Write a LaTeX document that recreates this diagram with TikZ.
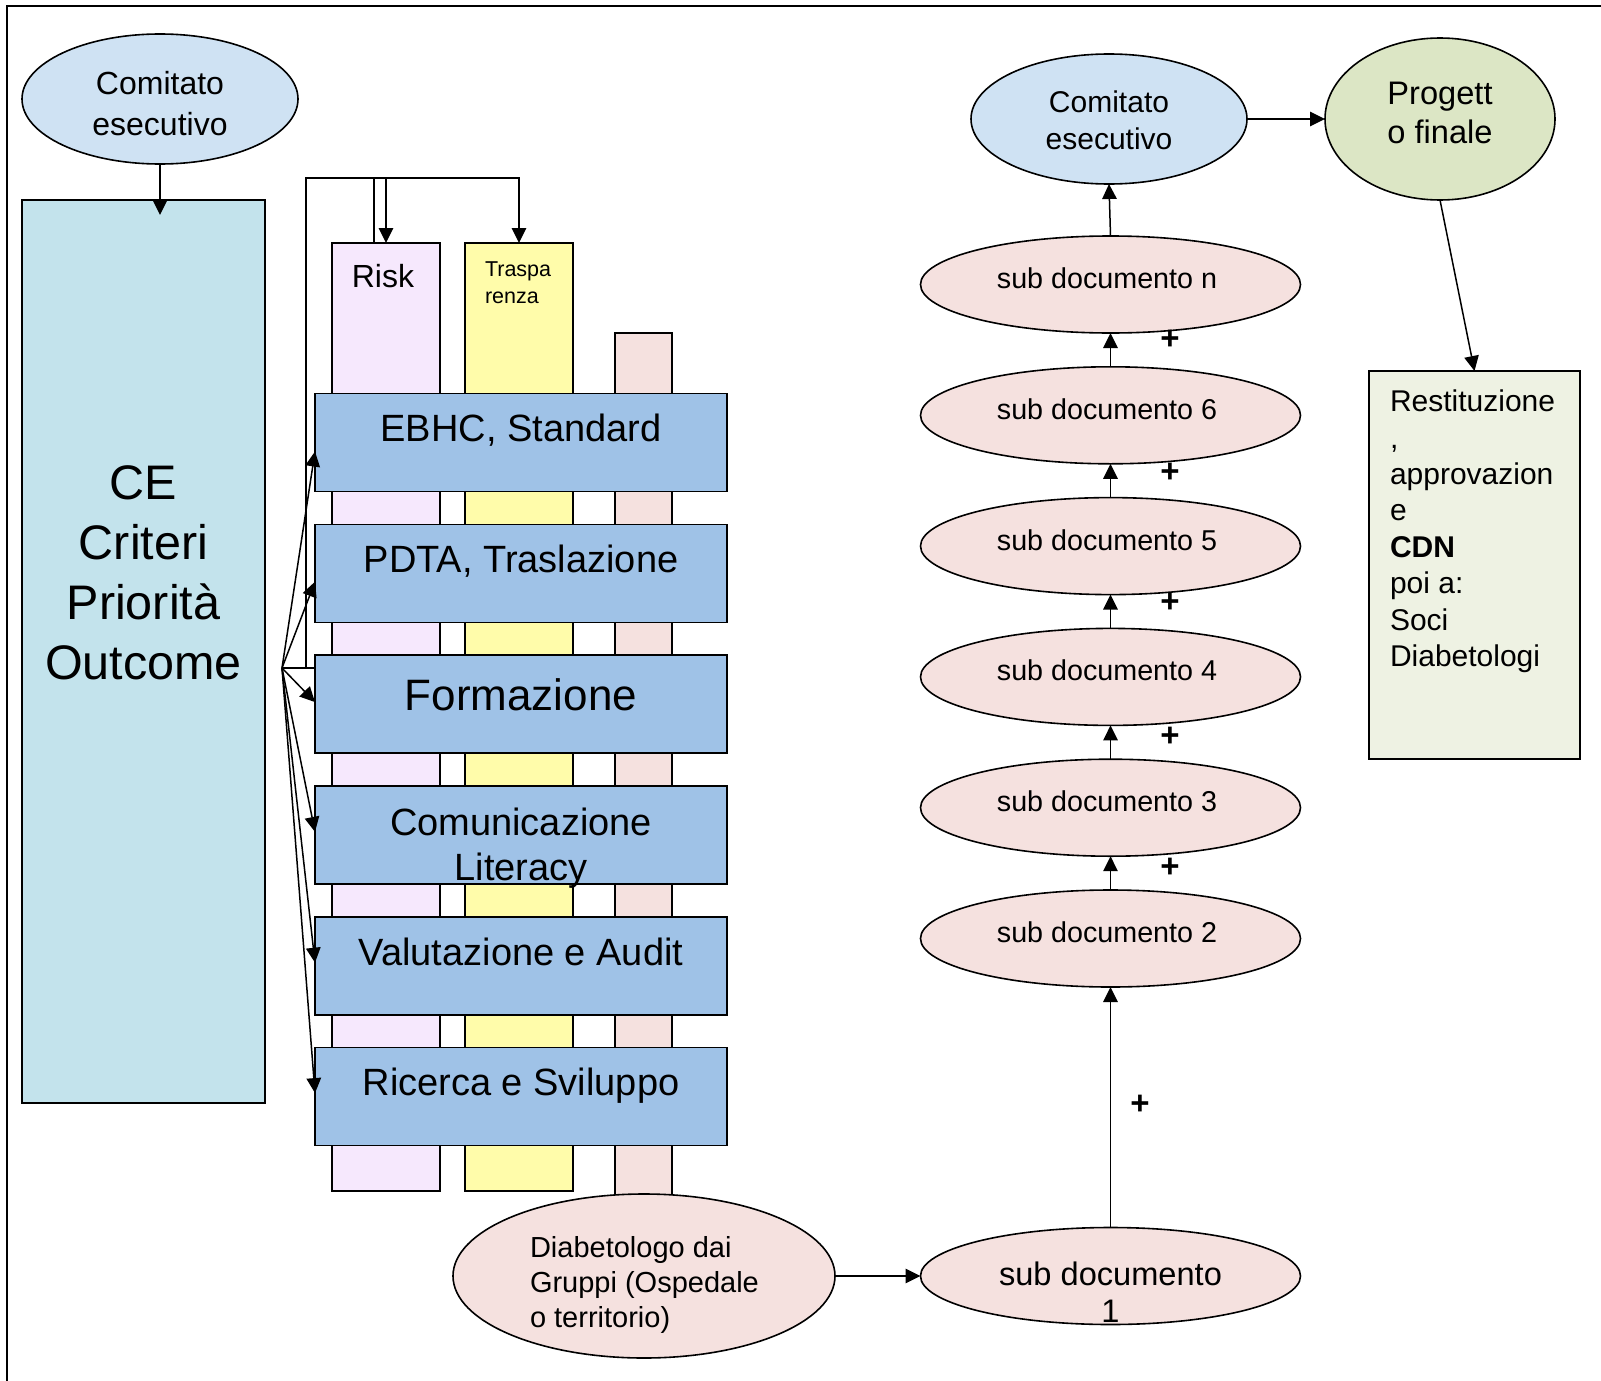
\documentclass[tikz,border=0pt]{standalone}
\usepackage{fontspec}
\setmainfont{Liberation Sans}
\usetikzlibrary{arrows.meta,calc,shapes.geometric}

\definecolor{comblue}{HTML}{CFE2F3}
\definecolor{ceteal}{HTML}{C3E3EC}
\definecolor{areablue}{HTML}{9FC2E7}
\definecolor{riskviolet}{HTML}{F6E8FD}
\definecolor{traspyellow}{HTML}{FFFCAA}
\definecolor{docpink}{HTML}{F5E1DF}
\definecolor{progreen}{HTML}{DCE6C5}
\definecolor{restgreen}{HTML}{EEF2E3}

% font size / baseline skip in pt
\newcommand\fsz[2]{\fontsize{#1}{#2}\selectfont}
% stacked lines whose baseline is the first line
\newcommand\stk[2][c]{\begin{tabular}[t]{@{}#1@{}}#2\end{tabular}}

\begin{document}
\begin{tikzpicture}[x=1pt,y=-1pt,line width=1.5pt,
  box/.style={draw,line width=1.6pt,inner sep=0pt,outer sep=0pt,anchor=north west},
  oval/.style={draw,line width=1.6pt,ellipse,inner sep=0pt,outer sep=0pt},
  area/.style={box,fill=areablue,minimum width=412pt,minimum height=98pt},
  column/.style={box,minimum width=108pt,minimum height=948pt},
  subdoc/.style={oval,fill=docpink,minimum width=380pt,minimum height=97pt},
  lbl/.style={inner sep=0pt,outer sep=0pt,anchor=base},
  lbll/.style={inner sep=0pt,outer sep=0pt,anchor=base west},
  plus/.style={inner sep=0pt,outer sep=0pt,font=\fsz{33}{38}\bfseries},
  conn/.style={-{Triangle[length=15pt,width=14.5pt]}}]

\useasboundingbox (0,0) rectangle (1601,1381);

% outer frame (runs off the page on the right and at the bottom)
\draw[line width=2pt] (1640,6) -- (7,6) -- (7,1420);

% ---- left part ----
\node[oval,fill=comblue,minimum width=276pt,minimum height=130pt] (cel) at (160,99) {};
\node[lbl,font=\fsz{32}{40}] (celt) at (160,95) {\stk{Comitato\\esecutivo}};

\node[box,fill=ceteal,minimum width=243pt,minimum height=903pt] (ce) at (22,200) {};
\node[lbl,font=\fsz{48.5}{60}] (cet) at (143.5,499) {\stk{CE\\Criteri\\Priorità\\Outcome}};

\draw[conn] (cel.south) -- ($(cel.south)+(0,51)$);

% vertical columns behind the areas
\node[column,fill=riskviolet] (risk) at (332,243) {};
\node[column,fill=traspyellow] (traspa) at (465,243) {};
\node[box,fill=docpink,minimum width=57pt,minimum height=880pt] (pinkcol) at (615,333) {};
\node[lbl,font=\fsz{32}{38}] (riskt) at (383,287) {Risk};
\node[lbll,font=\fsz{21.5}{27.3}] (traspat) at (485,276) {\stk[l]{Traspa\\renza}};

% horizontal areas
\node[area] (b1) at (315,393.5) {};
\node[area] (b2) at (315,524.3) {};
\node[area] (b3) at (315,655.1) {};
\node[area] (b4) at (315,785.9) {};
\node[area] (b5) at (315,916.7) {};
\node[area] (b6) at (315,1047.5) {};

\node[lbl,font=\fsz{38}{45}] (b1t) at (521,441.7) {EBHC, Standard};
\node[lbl,font=\fsz{38}{45}] (b2t) at (521,572.7) {PDTA, Traslazione};
\node[lbl,font=\fsz{44}{50}] (b3t) at (521,710) {Formazione};
\node[lbl,font=\fsz{38}{45}] (b4t) at (521,835) {\stk{Comunicazione\\Literacy}};
\node[lbl,font=\fsz{38}{45}] (b5t) at (521,965) {Valutazione e Audit};
\node[lbl,font=\fsz{38}{45}] (b6t) at (521,1095) {Ricerca e Sviluppo};

% bracket feeding the columns
\coordinate (fan) at (282,668);
\coordinate (brk) at (306,668);
\draw (fan) -- (fan -| b3.west);
\draw[conn] (brk) -- (306,178) -| (traspa.north);
\draw[conn] ($(risk.north)+(0,-65)$) -- (risk.north);
\draw ($(risk.north)+(-12,-65)$) -- ($(risk.north)+(-12,0)$);

% fan towards the areas
\draw[conn] (fan) -- ($(b1.north west)+(0,58)$);
\draw[conn] (fan) -- ($(b2.north west)+(0,57.4)$);
\draw[conn] (fan) -- ($(b3.north west)+(0,47)$);
\draw[conn] (fan) -- ($(b4.north west)+(0,46)$);
\draw[conn] (fan) -- ($(b5.north west)+(0,46)$);
\draw[conn] (fan) -- ($(b6.north west)+(0,45.6)$);

% ---- bottom ----
\node[oval,fill=docpink,minimum width=382pt,minimum height=164pt] (diab) at (644,1276) {};
\node[lbll,font=\fsz{29}{34.8}] (diabt) at (530,1257.5) {\stk[l]{Diabetologo dai\\Gruppi (Ospedale\\o territorio)}};

% ---- chain of sub documents ----
\node[subdoc] (sd1) at (1110.5,1276) {};
\node[subdoc] (sd2) at (1110.5,938.5) {};
\node[subdoc] (sd3) at (1110.5,807.7) {};
\node[subdoc] (sd4) at (1110.5,676.9) {};
\node[subdoc] (sd5) at (1110.5,546.1) {};
\node[subdoc] (sd6) at (1110.5,415.3) {};
\node[subdoc] (sdn) at (1110.5,284.5) {};

\node[lbl,font=\fsz{32.6}{37}] (sd1t) at (1110.5,1285) {\stk{sub documento\\1}};
\node[lbl,font=\fsz{28.7}{34}] (sd2t) at (1107,942.5) {sub documento 2};
\node[lbl,font=\fsz{28.7}{34}] (sd3t) at (1107,811.7) {sub documento 3};
\node[lbl,font=\fsz{28.7}{34}] (sd4t) at (1107,680.9) {sub documento 4};
\node[lbl,font=\fsz{28.7}{34}] (sd5t) at (1107,550.1) {sub documento 5};
\node[lbl,font=\fsz{28.7}{34}] (sd6t) at (1107,419.3) {sub documento 6};
\node[lbl,font=\fsz{28.7}{34}] (sdnt) at (1107,288.5) {sub documento n};

\draw[conn] (diab.east) -- (sd1.west);
\draw[conn] (sd1.north) -- (sd2.south);
\draw[conn] (sd2.north) -- (sd3.south);
\draw[conn] (sd3.north) -- (sd4.south);
\draw[conn] (sd4.north) -- (sd5.south);
\draw[conn] (sd5.north) -- (sd6.south);
\draw[conn] (sd6.north) -- (sdn.south);

\node[plus] (p1) at (1140,1105) {+};
\node[plus] (p2) at ($(sd3.south)+(59.5,12)$) {+};
\node[plus] (p3) at ($(sd4.south)+(59.5,11)$) {+};
\node[plus] (p4) at ($(sd5.south)+(59.5,8)$) {+};
\node[plus] (p5) at ($(sd6.south)+(59.5,9)$) {+};
\node[plus] (p6) at ($(sdn.south)+(59.5,7)$) {+};

% ---- top right ----
\node[oval,fill=comblue,minimum width=276pt,minimum height=130pt] (cer) at (1109,119) {};
\node[lbl,font=\fsz{30}{36.5}] (cert) at (1109,112.8) {\stk{Comitato\\esecutivo}};

\node[oval,fill=progreen,minimum width=230pt,minimum height=162pt] (prog) at (1440,119) {};
\node[lbl,font=\fsz{32.6}{39}] (progt) at (1440,104) {\stk{Progett\\o finale}};

\node[box,fill=restgreen,minimum width=211pt,minimum height=388pt] (rest) at (1369,371) {};
\node[lbll,font=\fsz{30}{36.4}] (restt) at (1390,411.7)
  {\stk[l]{Restituzione\\,\\approvazion\\e\\\textbf{CDN}\\poi a:\\Soci\\Diabetologi}};

\draw[conn] (sdn.north) -- (cer.south);
\draw[conn] (cer.east) -- (prog.west);
\draw[conn] (prog.south) -- (rest.north);

\end{tikzpicture}
\end{document}
